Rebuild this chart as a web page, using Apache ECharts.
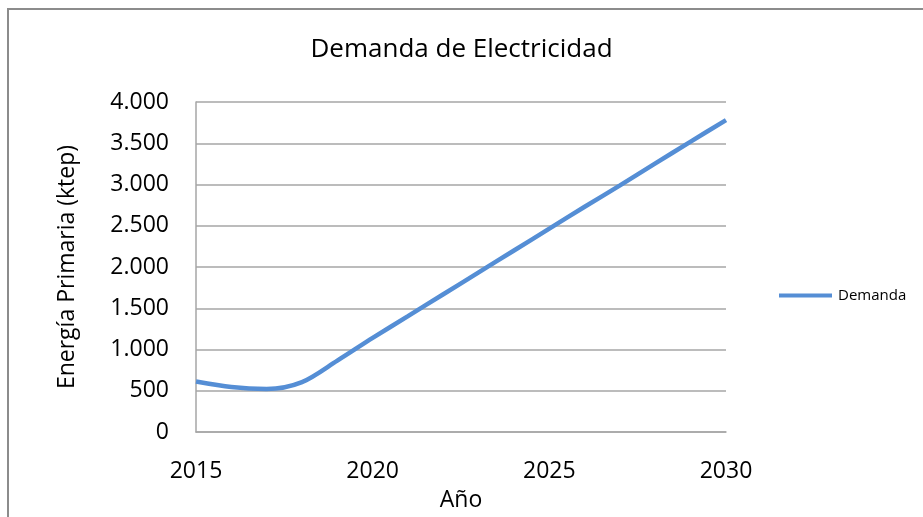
<!DOCTYPE html>
<html>
<head>
<meta charset="utf-8">
<script src="https://cdn.jsdelivr.net/npm/echarts@6/dist/echarts.min.js"></script>
<style>
    html, body { margin: 0; padding: 0; background: #fff; }
    #myChart { width: 923px; height: 517px; }
</style>
</head>
<body>
<div id="myChart"></div>
<script>
    // datos
    var years = [2015, 2016, 2017, 2018, 2019, 2020, 2021, 2022, 2023, 2024, 2025, 2026, 2027, 2028, 2029, 2030];
    var demanda = [612, 545, 522, 605, 865, 1140, 1405, 1670, 1935, 2200, 2465, 2730, 2990, 3255, 3520, 3780];
    var xTicks = [2015, 2020, 2025, 2030];
    var yTicks = [0, 500, 1000, 1500, 2000, 2500, 3000, 3500, 4000];

    var seriesData = [];
    for (var i = 0; i < years.length; i++) {
        seriesData.push([years[i], demanda[i]]);
    }

    var myChart = echarts.init(document.getElementById('myChart'));
    var fontName = 'Open Sans';
    var option = {
        animation: false,
        textStyle: { fontFamily: fontName, color: '#000' },
        title: {
            text: 'Demanda de Electricidad',
            left: 'center',
            top: 32,
            textStyle: { fontFamily: fontName, fontSize: 26, fontWeight: 'normal', color: '#000' }
        },
        graphic: [{
            type: 'rect',
            shape: { x: 8, y: 9, width: 1000, height: 600 },
            style: { fill: 'none', stroke: '#8c8c8c', lineWidth: 2 },
            silent: true
        }],
        legend: {
            data: ['Demanda'],
            left: 779,
            top: 288,
            padding: 0,
            icon: 'rect',
            itemWidth: 53,
            itemHeight: 4,
            itemGap: 5,
            textStyle: { fontFamily: fontName, fontSize: 15, color: '#000', padding: [0, 0, 0, 1] }
        },
        grid: {
            left: 196,
            right: 197,
            top: 102,
            bottom: 78
        },
        xAxis: {
            type: 'value',
            min: xTicks[0],
            max: xTicks[xTicks.length - 1],
            interval: 5,
            name: 'Año',
            nameLocation: 'middle',
            nameGap: 57,
            nameTextStyle: { fontFamily: fontName, fontSize: 23, color: '#000' },
            axisLine: { lineStyle: { color: '#a6a6a6', width: 1.5 } },
            axisTick: { show: false },
            splitLine: { show: false },
            axisLabel: {
                margin: 28,
                fontSize: 23,
                color: '#000',
                formatter: function (v) { return String(v); }
            }
        },
        yAxis: {
            type: 'value',
            min: yTicks[0],
            max: yTicks[yTicks.length - 1],
            interval: 500,
            name: 'Energía Primaria (ktep)',
            nameLocation: 'middle',
            nameGap: 117,
            nameTextStyle: { fontFamily: fontName, fontSize: 23, color: '#000' },
            axisLine: { show: true, lineStyle: { color: '#a6a6a6', width: 1.5 } },
            axisTick: { show: false },
            splitLine: { lineStyle: { color: '#a6a6a6', width: 1.5 } },
            axisLabel: {
                margin: 27,
                fontSize: 23,
                color: '#000',
                formatter: function (v) {
                    return String(v).replace(/\B(?=(\d{3})+(?!\d))/g, '.');
                }
            }
        },
        series: [{
            name: 'Demanda',
            type: 'line',
            data: seriesData,
            smooth: 0.3,
            showSymbol: false,
            symbol: 'none',
            lineStyle: { color: '#558ED5', width: 4.5 },
            itemStyle: { color: '#558ED5' }
        }]
    };
    myChart.setOption(option);
</script>
</body>
</html>
